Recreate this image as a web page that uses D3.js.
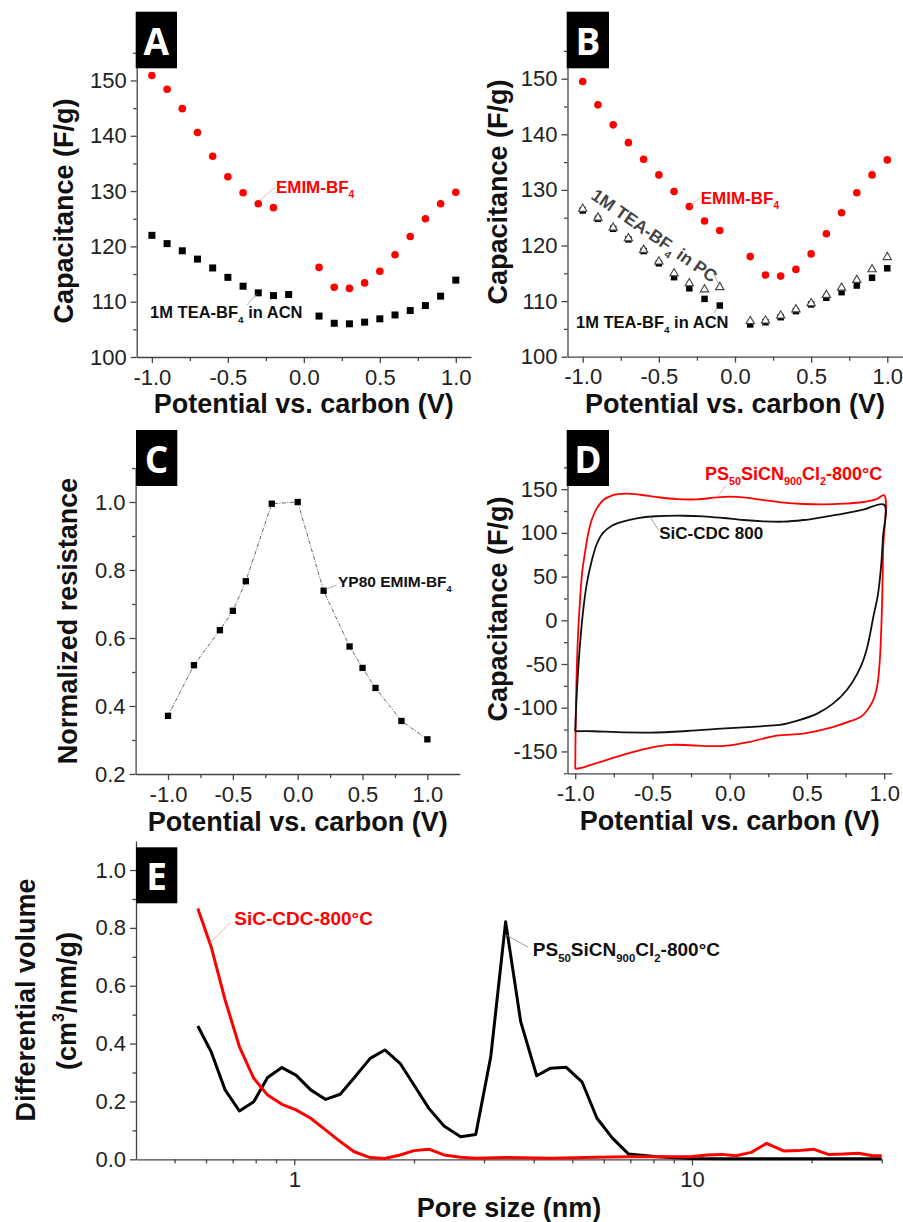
<!DOCTYPE html>
<html>
<head>
<meta charset="utf-8">
<script src="https://cdn.jsdelivr.net/npm/d3@7"></script>
<style>
  body { margin: 0; background: #fff; }
  svg { display: block; }
  text { font-family: "Liberation Sans", Arial, sans-serif; }
  .axis path, .axis line { stroke: #444; stroke-width: 1.3; }
  .axis text { font-size: 22px; fill: #222; }
  .title { font-weight: bold; font-size: 27px; fill: #111; }
  .note { font-weight: bold; }
</style>
</head>
<body>
<svg id="fig" width="903" height="1222"></svg>
<script>
// ---- panel A : capacitance vs potential
const aEmimV = [-1.0, -0.9, -0.8, -0.7, -0.6, -0.5, -0.4, -0.3, -0.2, 0.1, 0.2, 0.3, 0.4, 0.5, 0.6, 0.7, 0.8, 0.9, 1.0];
const aEmimC = [150.9, 148.4, 144.9, 140.6, 136.3, 132.6, 129.7, 127.7, 127.0, 116.2, 112.6, 112.4, 113.4, 115.5, 118.5, 121.8, 125.0, 127.7, 129.8];
const aAcnV = [-1.0, -0.9, -0.8, -0.7, -0.6, -0.5, -0.4, -0.3, -0.2, -0.1, 0.1, 0.2, 0.3, 0.4, 0.5, 0.6, 0.7, 0.8, 0.9, 1.0];
const aAcnC = [122.0, 120.5, 119.2, 117.7, 116.1, 114.4, 112.8, 111.6, 111.1, 111.3, 107.4, 106.1, 106.0, 106.3, 106.9, 107.6, 108.4, 109.3, 111.0, 113.9];

// ---- panel B
const bV = [-1.0, -0.9, -0.8, -0.7, -0.6, -0.5, -0.4, -0.3, -0.2, -0.1, 0.1, 0.2, 0.3, 0.4, 0.5, 0.6, 0.7, 0.8, 0.9, 1.0];
const bEmimC = [149.5, 145.3, 141.7, 138.5, 135.5, 132.7, 129.7, 127.0, 124.4, 122.7, 118.0, 114.7, 114.5, 115.7, 118.5, 122.1, 125.9, 129.5, 132.7, 135.4];
const bPcC = [126.6, 125.0, 123.2, 121.3, 119.2, 117.1, 115.0, 113.2, 112.1, 112.5, 106.4, 106.5, 107.4, 108.5, 109.6, 111.1, 112.4, 113.8, 115.7, 117.9];
const bAcnC = [126.3, 124.8, 123.0, 121.1, 119.0, 116.8, 114.3, 112.3, 110.4, 109.2, 105.8, 106.2, 107.1, 108.2, 109.4, 110.6, 111.6, 112.8, 114.2, 115.9];

// ---- panel C : normalized resistance
const cV = [-1.0, -0.8, -0.6, -0.5, -0.4, -0.2, 0.0, 0.2, 0.4, 0.5, 0.6, 0.8, 1.0];
const cR = [0.371, 0.520, 0.623, 0.680, 0.767, 0.995, 1.000, 0.739, 0.575, 0.512, 0.453, 0.356, 0.302];

// ---- panel D : cyclic voltammograms (closed loops)
const dPsV = [-1.0, -0.995, -0.985, -0.973, -0.955, -0.937, -0.915, -0.893, -0.86, -0.818, -0.76, -0.667, -0.580, -0.472, -0.343, -0.214, -0.084, 0.002, 0.088, 0.218, 0.347, 0.477, 0.606, 0.736, 0.865, 0.951, 1.0,
  0.993, 0.985, 0.972, 0.955, 0.925, 0.876, 0.845, 0.779, 0.649, 0.477, 0.304, 0.132, 0.002, -0.127, -0.257, -0.386, -0.516, -0.645, -0.775, -0.904, -0.969, -1.0];
const dPsC = [-170, -95, -30, 12, 55, 77, 100, 115, 128, 137.6, 143, 144.8, 143.6, 141, 138.7, 138.3, 140.6, 141.4, 140.6, 137.5, 134.5, 133, 132.6, 133.4, 135.3, 138.7, 142.9,
  80, 10, -45, -75, -93, -106, -111, -115.4, -123, -129.5, -132, -139, -143, -144, -142.9, -142.5, -145.9, -151.6, -158.5, -165.7, -169.2, -170];
const dCdcV = [-1.0, -0.993, -0.982, -0.968, -0.948, -0.925, -0.893, -0.861, -0.82, -0.76, -0.68, -0.602, -0.48, -0.300, -0.170, -0.041, 0.088, 0.218, 0.347, 0.477, 0.606, 0.736, 0.865, 1.0,
  0.992, 0.980, 0.960, 0.930, 0.887, 0.843, 0.757, 0.671, 0.563, 0.434, 0.326, 0.261, 0.088, -0.084, -0.300, -0.516, -0.731, -0.882, -1.0];
const dCdcC = [-126.9, -95, -60, -25, 12, 42, 68, 87, 100, 108.5, 113.5, 116.7, 119, 119.6, 118.9, 117, 114.7, 113.2, 112.8, 114.7, 118.1, 121.9, 126.5, 132.2,
  95, 62, 30, 4, -33, -55, -80, -95, -107, -115, -119.6, -120.5, -122.5, -124.2, -126.9, -128.4, -128, -126.9, -126.9];

// ---- panel E : pore size distribution
const ePsSize = [0.572, 0.618, 0.670, 0.728, 0.791, 0.857, 0.931, 1.01, 1.10, 1.20, 1.305, 1.415, 1.552, 1.69, 1.845, 2.0, 2.18, 2.38, 2.62, 2.86, 3.12, 3.40, 3.71, 4.07, 4.41, 4.83, 5.29, 5.77, 6.31, 6.93, 8.16, 9.9, 12, 15, 20, 30];
const ePsVol = [0.461, 0.372, 0.240, 0.167, 0.199, 0.283, 0.317, 0.291, 0.240, 0.207, 0.225, 0.282, 0.349, 0.378, 0.332, 0.257, 0.176, 0.115, 0.078, 0.086, 0.355, 0.821, 0.476, 0.289, 0.315, 0.318, 0.268, 0.142, 0.073, 0.018, 0.009, 0.003, 0.002, 0.002, 0.002, 0.002];
const eCdcSize = [0.572, 0.618, 0.670, 0.728, 0.791, 0.857, 0.931, 1.01, 1.10, 1.20, 1.305, 1.415, 1.552, 1.69, 1.845, 2.0, 2.18, 2.38, 2.62, 2.86, 3.40, 4.41, 5.77, 6.93, 8.16, 9.9, 10.9, 11.9, 12.9, 14.1, 15.4, 17.0, 18.5, 20.2, 22.0, 24.0, 26.2, 28.5, 30];
const eCdcVol = [0.867, 0.735, 0.551, 0.389, 0.280, 0.222, 0.190, 0.171, 0.142, 0.101, 0.061, 0.026, 0.006, 0.003, 0.015, 0.030, 0.035, 0.015, 0.007, 0.004, 0.006, 0.004, 0.007, 0.009, 0.009, 0.009, 0.015, 0.017, 0.012, 0.024, 0.055, 0.029, 0.030, 0.035, 0.017, 0.018, 0.021, 0.012, 0.012];

const RED = '#ff0000';
const svg = d3.select('#fig');
const fix1 = d => d.toFixed(1);
const range = (a, b, s) => d3.range(a, b + s / 2, s).map(v => +v.toFixed(3));

function frame(x, y, o) {
  const g = svg.append('g');
  const y0 = y.range()[0], x0 = x.range()[0];
  g.append('g').attr('class', 'axis').attr('transform', `translate(0,${y0})`)
    .call(d3.axisBottom(x).tickValues(o.xMajor).tickFormat(o.xFmt).tickSize(6).tickSizeOuter(0).tickPadding(6));
  g.append('g').attr('class', 'axis').attr('transform', `translate(0,${y0})`)
    .call(d3.axisBottom(x).tickValues(o.xMinor).tickFormat('').tickSize(4).tickSizeOuter(0))
    .call(a => a.selectAll('text').remove())
    .select('.domain').remove();
  g.append('g').attr('class', 'axis').attr('transform', `translate(${x0},0)`)
    .call(d3.axisLeft(y).tickValues(o.yMajor).tickFormat(o.yFmt).tickSize(6).tickSizeOuter(0).tickPadding(4));
  g.append('g').attr('class', 'axis').attr('transform', `translate(${x0},0)`)
    .call(d3.axisLeft(y).tickValues(o.yMinor).tickFormat('').tickSize(3.5).tickSizeOuter(0))
    .call(a => a.selectAll('text').remove())
    .select('.domain').remove();
  return g;
}

function xTitle(cx, by, s) {
  svg.append('text').attr('class', 'title').attr('x', cx).attr('y', by)
    .attr('text-anchor', 'middle').text(s);
}
function yTitle(bx, cy, s) {
  return svg.append('text').attr('class', 'title').attr('text-anchor', 'middle')
    .attr('transform', `translate(${bx},${cy}) rotate(-90)`).text(s);
}

// rich label: parts = [[text, 'sub'|'sup'|''], ...]
function note(g, px, py, parts, color, size, rot) {
  const t = g.append('text').attr('class', 'note').attr('fill', color)
    .attr('font-size', size)
    .attr('transform', `translate(${px},${py})` + (rot ? ` rotate(${rot})` : ''));
  let shift = 0;
  parts.forEach(([s, k]) => {
    const want = k === 'sub' ? size * 0.3 : k === 'sup' ? -size * 0.45 : 0;
    t.append('tspan').attr('dy', want - shift)
      .attr('font-size', k ? size * 0.6 : size).text(s);
    shift = want;
  });
  return t;
}
function leader(g, x, y, pts, color) {
  g.append('path').attr('fill', 'none').attr('stroke', color).attr('stroke-width', 0.8)
    .attr('d', d3.line().x(d => x(d[0])).y(d => y(d[1]))(pts));
}
function badge(x, y, w, h, s) {
  svg.append('rect').attr('x', x).attr('y', y).attr('width', w).attr('height', h).attr('fill', '#000');
  svg.append('text').attr('x', x + w / 2).attr('y', y + h - 13)
    .attr('text-anchor', 'middle').attr('fill', '#fff')
    .style('font-family', '"Open Sans", sans-serif').style('font-weight', 700).style('font-size', '37px')
    .text(s);
}

const sq = d3.symbol().type(d3.symbolSquare);

// ================= A
{
  const x = d3.scaleLinear([-1.1, 1.1], [136.7, 471]);
  const y = d3.scaleLinear([100, 155], [357, 52.8]);
  const g = frame(x, y, {
    xMajor: range(-1, 1, 0.5), xMinor: [-0.75, -0.25, 0.25, 0.75], xFmt: fix1,
    yMajor: range(100, 150, 10), yMinor: range(105, 155, 10), yFmt: d => d
  });
  g.selectAll('.acn').data(aAcnV).join('path')
    .attr('transform', (d, i) => `translate(${x(d)},${y(aAcnC[i])})`)
    .attr('d', sq.size(49)()).attr('fill', '#000');
  g.selectAll('.emim').data(aEmimV).join('circle')
    .attr('cx', d => x(d)).attr('cy', (d, i) => y(aEmimC[i])).attr('r', 3.8).attr('fill', RED);
  leader(g, x, y, [[-0.29, 128.3], [-0.185, 130.8]], '#f99');
  note(g, x(-0.184), y(129.65), [['EMIM-BF', ''], ['4', 'sub']], RED, 17);
  leader(g, x, y, [[-0.375, 109.4], [-0.31, 111.4]], '#999');
  note(g, x(-1.012), y(107.05), [['1M TEA-BF', ''], ['4', 'sub'], [' in ACN', '']], '#111', 16.5);
  xTitle(303.8, 413, 'Potential vs. carbon (V)');
  yTitle(73, 211, 'Capacitance (F/g)');
  badge(135.7, 11.7, 41.3, 56.6, 'A');
}

// ================= B
{
  const x = d3.scaleLinear([-1.1, 1.1], [567.5, 902.5]);
  const y = d3.scaleLinear([100, 155], [356.7, 50.9]);
  const g = frame(x, y, {
    xMajor: range(-1, 1, 0.5), xMinor: [-0.75, -0.25, 0.25, 0.75], xFmt: fix1,
    yMajor: range(100, 150, 10), yMinor: range(105, 155, 10), yFmt: d => d
  });
  g.selectAll('.acn').data(bV).join('path')
    .attr('transform', (d, i) => `translate(${x(d)},${y(bAcnC[i])})`)
    .attr('d', sq.size(42)()).attr('fill', '#000');
  g.selectAll('.pc').data(bV).join('path')
    .attr('transform', (d, i) => `translate(${x(d)},${y(bPcC[i])})`)
    .attr('d', d3.symbol().type(d3.symbolTriangle).size(30)())
    .attr('fill', '#fff').attr('stroke', '#444').attr('stroke-width', 1.1);
  g.selectAll('.emim').data(bV).join('circle')
    .attr('cx', d => x(d)).attr('cy', (d, i) => y(bEmimC[i])).attr('r', 3.8).attr('fill', RED);
  leader(g, x, y, [[-0.295, 127.0], [-0.225, 128.7]], '#f99');
  note(g, x(-0.225), y(127.48), [['EMIM-BF', ''], ['4', 'sub']], RED, 17);
  leader(g, x, y, [[-0.143, 115.0], [-0.103, 112.8]], '#999');
  note(g, x(-0.952), y(128.56), [['1M TEA-BF', ''], ['4', 'sub'], [' in PC', '']], '#444', 17.5, 35);
  leader(g, x, y, [[-0.118, 108.8], [-0.135, 107.9]], '#999');
  note(g, x(-1.044), y(105.17), [['1M TEA-BF', ''], ['4', 'sub'], [' in ACN', '']], '#111', 16.5);
  xTitle(735, 413, 'Potential vs. carbon (V)');
  yTitle(506.7, 192, 'Capacitance (F/g)');
  badge(566.7, 11.7, 42.3, 56.6, 'B');
}

// ================= C
{
  const x = d3.scaleLinear([-1.25, 1.25], [135.6, 459.8]);
  const y = d3.scaleLinear([0.2, 1.1], [774, 468]);
  const g = frame(x, y, {
    xMajor: range(-1, 1, 0.5), xMinor: [-0.75, -0.25, 0.25, 0.75], xFmt: fix1,
    yMajor: range(0.2, 1.0, 0.2), yMinor: range(0.3, 1.1, 0.2), yFmt: fix1
  });
  g.append('path').datum(cV)
    .attr('fill', 'none').attr('stroke', '#555').attr('stroke-width', 0.9)
    .attr('stroke-dasharray', '4,1.5,1,1.5')
    .attr('d', d3.line().x(d => x(d)).y((d, i) => y(cR[i])));
  g.selectAll('.r').data(cV).join('path')
    .attr('transform', (d, i) => `translate(${x(d)},${y(cR[i])})`)
    .attr('d', sq.size(40)()).attr('fill', '#000');
  leader(g, x, y, [[0.215, 0.743], [0.3, 0.756]], '#999');
  note(g, x(0.311), y(0.75), [['YP80 EMIM-BF', ''], ['4', 'sub']], '#111', 15.5);
  xTitle(297.7, 831, 'Potential vs. carbon (V)');
  yTitle(77, 621, 'Normalized resistance');
  badge(136, 430, 41.3, 56, 'C');
}

// ================= D
{
  const x = d3.scaleLinear([-1.05, 1.05], [567.5, 891.9]);
  const y = d3.scaleLinear([-175, 175], [773.3, 467.3]);
  const g = frame(x, y, {
    xMajor: range(-1, 1, 0.5), xMinor: [-0.75, -0.25, 0.25, 0.75], xFmt: fix1,
    yMajor: range(-150, 150, 50), yMinor: range(-175, 175, 50), yFmt: d => d
  });
  const loop = (vs, cs) => d3.line().curve(d3.curveCatmullRom.alpha(0.5))
    .x(d => x(d)).y((d, i) => y(cs[i]))(vs);
  g.append('path').attr('d', loop(dPsV, dPsC)).attr('fill', 'none').attr('stroke', RED).attr('stroke-width', 1.8);
  g.append('path').attr('d', loop(dCdcV, dCdcC)).attr('fill', 'none').attr('stroke', '#111').attr('stroke-width', 1.8);
  leader(g, x, y, [[-0.084, 140.7], [-0.02, 154.8]], '#f99');
  note(g, x(-0.16), y(160.5), [['PS', ''], ['50', 'sub'], ['SiCN', ''], ['900', 'sub'], ['Cl', ''], ['2', 'sub'], ['-800°C', '']], RED, 18);
  leader(g, x, y, [[-0.516, 118.2], [-0.46, 103.3]], '#888');
  note(g, x(-0.456), y(92.6), [['SiC-CDC 800', '']], '#111', 17);
  xTitle(729.7, 830, 'Potential vs. carbon (V)');
  yTitle(506.7, 609, 'Capacitance (F/g)');
  badge(566.7, 430, 42.3, 56, 'D');
}

// ================= E
{
  const x = d3.scaleLog([0.4, 30], [136, 881.7]);
  const y = d3.scaleLinear([0, 1.1], [1159.3, 841.1]);
  const g = frame(x, y, {
    xMajor: [1, 10], xMinor: [0.5, 0.6, 0.7, 0.8, 0.9, 2, 3, 4, 5, 6, 7, 8, 9, 20, 30], xFmt: d => d,
    yMajor: range(0, 1.0, 0.2), yMinor: range(0.1, 0.9, 0.2), yFmt: fix1
  });
  const ln = (xs, vs) => d3.line().x(d => x(d)).y((d, i) => y(vs[i]))(xs);
  g.append('path').attr('d', ln(ePsSize, ePsVol)).attr('fill', 'none').attr('stroke', '#000').attr('stroke-width', 3).attr('stroke-linejoin', 'round');
  g.append('path').attr('d', ln(eCdcSize, eCdcVol)).attr('fill', 'none').attr('stroke', RED).attr('stroke-width', 3).attr('stroke-linejoin', 'round');
  leader(g, x, y, [[0.614, 0.748], [0.689, 0.817]], '#f99');
  note(g, x(0.707), y(0.81), [['SiC-CDC-800°C', '']], RED, 19);
  leader(g, x, y, [[3.42, 0.775], [3.88, 0.733]], '#888');
  note(g, x(3.98), y(0.703), [['PS', ''], ['50', 'sub'], ['SiCN', ''], ['900', 'sub'], ['Cl', ''], ['2', 'sub'], ['-800°C', '']], '#111', 19);
  xTitle(509, 1217, 'Pore size (nm)');
  yTitle(35, 1000, 'Differential volume');
  const t2 = svg.append('text').attr('class', 'title').attr('text-anchor', 'middle')
    .attr('transform', 'translate(76,1001) rotate(-90)');
  t2.append('tspan').text('(cm');
  t2.append('tspan').attr('font-size', 16).attr('dy', -12).text('3');
  t2.append('tspan').attr('dy', 12).text('/nm/g)');
  badge(136, 847.3, 41.3, 56, 'E');
}
</script>
</body>
</html>
